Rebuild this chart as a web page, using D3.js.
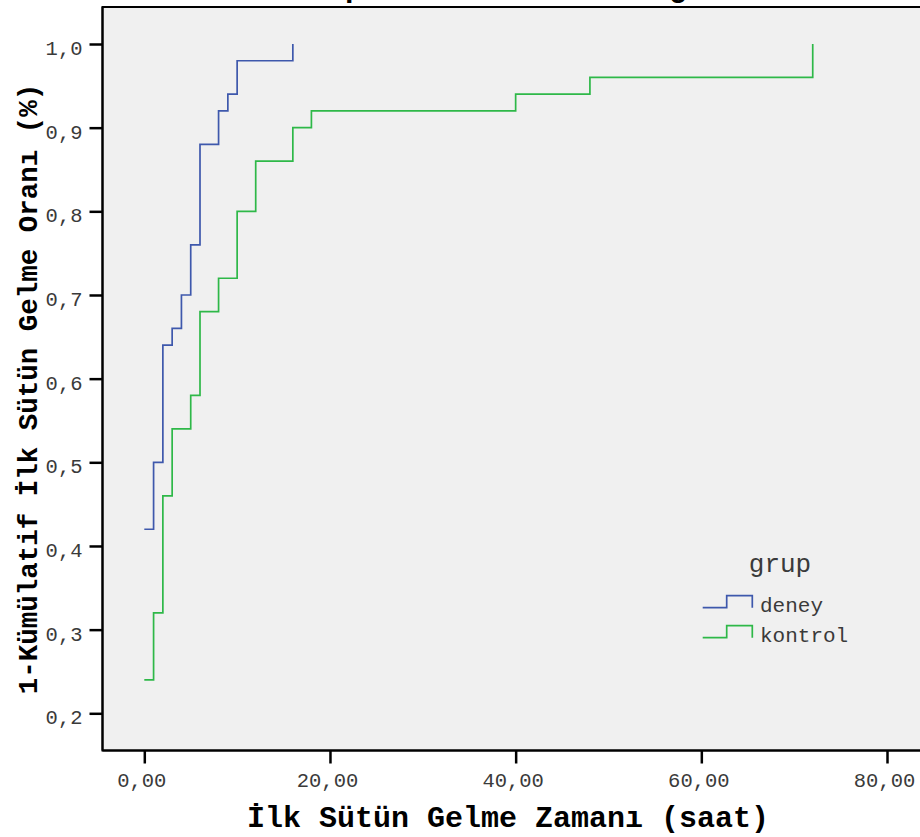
<!DOCTYPE html>
<html>
<head>
<meta charset="utf-8">
<script src="https://cdn.jsdelivr.net/npm/d3@7"></script>
<style>
  html, body { margin: 0; padding: 0; background: #ffffff; }
  svg { display: block; }
  text { font-family: "Liberation Mono", "Courier New", monospace; }
</style>
</head>
<body>
<svg id="chart" width="920" height="837"></svg>
<script>
// ---- data ----
const deneyTime   = [0, 1, 2, 3, 4, 5, 6, 8, 9, 10, 16];
const deneyValue  = [0.42, 0.50, 0.64, 0.66, 0.70, 0.76, 0.88, 0.92, 0.94, 0.98, 1.00];
const kontrolTime  = [0, 1, 2, 3, 5, 6, 8, 10, 12, 16, 18, 40, 48, 72];
const kontrolValue = [0.24, 0.32, 0.46, 0.54, 0.58, 0.68, 0.72, 0.80, 0.86, 0.90, 0.92, 0.94, 0.96, 1.00];
const groupNames  = ["deney", "kontrol"];
const groupColors = ["#3E58AC", "#2EB848"];
const xTicks = [0, 20, 40, 60, 80];
const yTicks = [0.2, 0.3, 0.4, 0.5, 0.6, 0.7, 0.8, 0.9, 1.0];
const chartTitle  = "Grupların Kümülatif Eğrisi";
const xTitle = "İlk Sütün Gelme Zamanı (saat)";
const yTitle = "1-Kümülatif İlk Sütün Gelme Oranı (%)";
const legendTitle = "grup";

// ---- layout ----
const svg = d3.select("#chart");
const plotLeft = 102.5, plotTop = 7, plotBottom = 750.5, plotRight = 960;

const x = d3.scaleLinear().domain([0, 80]).range([144.3, 887]);
const y = d3.scaleLinear().domain([0.2, 1.0]).range([713.3, 44]);

// title (clipped above the plot, as in the reference)
svg.append("text")
  .attr("x", 291).attr("y", -3.5)
  .attr("font-size", 30).attr("font-weight", "bold")
  .attr("fill", "#000")
  .text(chartTitle);

// plot background
svg.append("rect")
  .attr("x", plotLeft).attr("y", plotTop)
  .attr("width", plotRight - plotLeft).attr("height", plotBottom - plotTop)
  .attr("fill", "#F0F0F0")
  .attr("stroke", "#000").attr("stroke-width", 2);

// series
const series = [
  { name: groupNames[0], color: groupColors[0], pts: deneyTime.map((t, i) => [t, deneyValue[i]]) },
  { name: groupNames[1], color: groupColors[1], pts: kontrolTime.map((t, i) => [t, kontrolValue[i]]) }
];
const line = d3.line().x(d => x(d[0])).y(d => y(d[1])).curve(d3.curveStepAfter);
svg.append("g").selectAll("path").data(series).join("path")
  .attr("d", d => line(d.pts))
  .attr("fill", "none")
  .attr("stroke", d => d.color)
  .attr("stroke-width", 1.7);

// x axis
const fmtX = v => d3.format(".2f")(v).replace(".", ",");
const xAxis = d3.axisBottom(x).tickValues(xTicks).tickFormat(fmtX).tickSize(13).tickPadding(9);
const gx = svg.append("g").attr("transform", `translate(0,${plotBottom})`).call(xAxis);
gx.select(".domain").attr("stroke", "#000").attr("stroke-width", 2)
  .attr("d", `M${plotLeft},0H${plotRight}`);
gx.selectAll(".tick line").attr("stroke", "#000").attr("stroke-width", 2.5);
gx.selectAll(".tick text")
  .attr("font-family", "Liberation Mono, monospace")
  .attr("font-size", 20.5).attr("fill", "#3a3a3a")
  .attr("dx", -3);

// y axis
const fmtY = v => d3.format(".1f")(v).replace(".", ",");
const yAxis = d3.axisLeft(y).tickValues(yTicks).tickFormat(fmtY).tickSize(13).tickPadding(7);
const gy = svg.append("g").attr("transform", `translate(${plotLeft},0)`).call(yAxis);
gy.select(".domain").attr("stroke", "#000").attr("stroke-width", 2)
  .attr("d", `M0,${plotTop}V${plotBottom}`);
gy.selectAll(".tick line").attr("stroke", "#000").attr("stroke-width", 2.5);
gy.selectAll(".tick text")
  .attr("font-family", "Liberation Mono, monospace")
  .attr("font-size", 20.5).attr("fill", "#3a3a3a")
  .attr("dy", "0.85em").attr("y", -7);

// axis titles
svg.append("text")
  .attr("x", 508).attr("y", 827)
  .attr("text-anchor", "middle")
  .attr("font-size", 30).attr("font-weight", "bold").attr("fill", "#000")
  .text(xTitle);
svg.append("text")
  .attr("transform", "translate(37,389) rotate(-90)")
  .attr("text-anchor", "middle")
  .attr("font-size", 27.5).attr("font-weight", "bold").attr("fill", "#000")
  .text(yTitle);

// legend
const lg = svg.append("g");
lg.append("text")
  .attr("x", 780).attr("y", 571.5)
  .attr("text-anchor", "middle")
  .attr("font-size", 26).attr("fill", "#3a3a3a")
  .text(legendTitle);
const rows = lg.selectAll("g.row").data(series).join("g")
  .attr("class", "row")
  .attr("transform", (d, i) => `translate(0,${607.7 + i * 30})`);
rows.append("path")
  .attr("d", "M702.7,0H726.7V-12H752.3V0")
  .attr("fill", "none")
  .attr("stroke", d => d.color)
  .attr("stroke-width", 1.7);
rows.append("text")
  .attr("x", 760).attr("y", 4)
  .attr("font-size", 21).attr("fill", "#3a3a3a")
  .text(d => d.name);
</script>
</body>
</html>
